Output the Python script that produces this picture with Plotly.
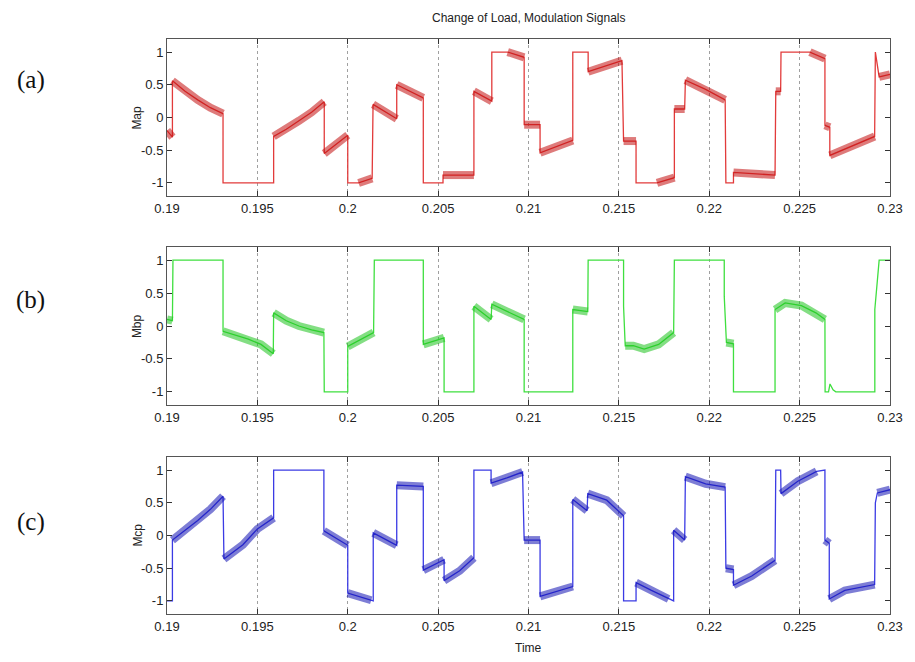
import plotly.graph_objects as go

# ---------------- data ----------------
x_ticks = [0.19, 0.195, 0.2, 0.205, 0.21, 0.215, 0.22, 0.225, 0.23]
x_tick_text = ["0.19", "0.195", "0.2", "0.205", "0.21", "0.215", "0.22", "0.225", "0.23"]
y_ticks = [-1, -0.5, 0, 0.5, 1]
y_tick_text = ["-1", "-0.5", "0", "0.5", "1"]

# Map: time, value, ripple flag (1 = stretch to next point carries PWM ripple)
map_t = [0.19000, 0.19030, 0.19030, 0.19100, 0.19170, 0.19240, 0.19310, 0.19310, 0.19590, 0.19590,
         0.19660, 0.19730, 0.19800, 0.19870, 0.19870, 0.20000, 0.20000, 0.20060, 0.20135, 0.20140,
         0.20271, 0.20271, 0.20418, 0.20418, 0.20527, 0.20527, 0.20698, 0.20698, 0.20797, 0.20797,
         0.20885, 0.20976, 0.20976, 0.21064, 0.21064, 0.21245, 0.21245, 0.21330, 0.21330, 0.21517,
         0.21526, 0.21595, 0.21595, 0.21711, 0.21807, 0.21807, 0.21864, 0.21868, 0.21980, 0.22088,
         0.22092, 0.22134, 0.22134, 0.22364, 0.22368, 0.22395, 0.22397, 0.22557, 0.22640, 0.22640,
         0.22667, 0.22667, 0.22790, 0.22915, 0.22919, 0.22940, 0.23000]
map_y = [-0.20, -0.30, 0.56, 0.40, 0.27, 0.15, 0.06, -1.00, -1.00, -0.29,
         -0.18, -0.05, 0.08, 0.24, -0.55, -0.27, -1.00, -1.00, -0.93, 0.20,
         -0.02, 0.50, 0.30, -1.00, -1.00, -0.88, -0.88, 0.40, 0.25, 1.00,
         1.00, 0.92, -0.11, -0.11, -0.54, -0.35, 1.00, 1.00, 0.70, 0.87,
         -0.36, -0.36, -1.00, -1.00, -0.92, 0.13, 0.13, 0.57, 0.43, 0.27,
         -1.00, -1.00, -0.84, -0.88, 0.40, 0.40, 1.00, 1.00, 0.90, -0.12,
         -0.15, -0.58, -0.43, -0.29, 1.00, 0.62, 0.66]
map_r = [1, 0, 1, 1, 1, 1, 0, 0, 0, 1,
         1, 1, 1, 0, 1, 0, 0, 1, 0, 1,
         0, 1, 0, 0, 0, 1, 0, 1, 0, 0,
         1, 0, 1, 0, 1, 0, 0, 0, 1, 0,
         1, 0, 0, 1, 0, 1, 0, 1, 1, 0,
         0, 0, 1, 0, 1, 0, 0, 1, 0, 1,
         0, 1, 1, 0, 0, 1, 0]

mbp_t = [0.19000, 0.19030, 0.19033, 0.19310, 0.19310, 0.19380, 0.19450, 0.19520, 0.19588, 0.19590,
         0.19660, 0.19730, 0.19800, 0.19868, 0.19870, 0.20000, 0.20000, 0.20143, 0.20147, 0.20418,
         0.20418, 0.20533, 0.20533, 0.20698, 0.20698, 0.20793, 0.20797, 0.20976, 0.20976, 0.21245,
         0.21245, 0.21328, 0.21330, 0.21526, 0.21526, 0.21535, 0.21580, 0.21640, 0.21720, 0.21803,
         0.21807, 0.22083, 0.22083, 0.22095, 0.22134, 0.22134, 0.22364, 0.22364, 0.22420, 0.22510,
         0.22590, 0.22640, 0.22641, 0.22660, 0.22668, 0.22685, 0.22700, 0.22916, 0.22916, 0.22940,
         0.23000]
mbp_y = [0.10, 0.08, 1.00, 1.00, -0.08, -0.14, -0.20, -0.28, -0.42, 0.20,
         0.08, 0.00, -0.06, -0.10, -1.00, -1.00, -0.31, -0.10, 1.00, 1.00,
         -0.28, -0.18, -1.00, -1.00, 0.30, 0.10, 0.33, 0.10, -1.00, -1.00,
         0.25, 0.22, 1.00, 1.00, 0.30, -0.30, -0.30, -0.35, -0.28, -0.10,
         1.00, 1.00, 0.45, -0.25, -0.27, -1.00, -1.00, 0.25, 0.35, 0.31,
         0.20, 0.10, -1.00, -1.00, -0.88, -0.97, -1.00, -1.00, 0.25, 1.00,
         1.00]
mbp_r = [1, 0, 0, 0, 1, 1, 1, 1, 0, 1,
         1, 1, 1, 0, 0, 0, 1, 0, 0, 0,
         1, 0, 0, 0, 1, 0, 1, 0, 0, 0,
         1, 0, 0, 0, 0, 1, 1, 1, 1, 0,
         0, 0, 0, 1, 0, 0, 0, 1, 1, 1,
         1, 0, 0, 0, 0, 0, 0, 0, 0, 0,
         0]

mcp_t = [0.19000, 0.19030, 0.19030, 0.19170, 0.19240, 0.19310, 0.19315, 0.19420, 0.19500, 0.19590,
         0.19590, 0.19868, 0.19868, 0.20000, 0.20000, 0.20130, 0.20141, 0.20141, 0.20271, 0.20271,
         0.20418, 0.20418, 0.20533, 0.20533, 0.20619, 0.20698, 0.20698, 0.20793, 0.20793, 0.20880,
         0.20967, 0.20976, 0.21064, 0.21064, 0.21245, 0.21245, 0.21324, 0.21328, 0.21433, 0.21526,
         0.21526, 0.21595, 0.21595, 0.21680, 0.21775, 0.21803, 0.21803, 0.21864, 0.21868, 0.21980,
         0.22088, 0.22092, 0.22134, 0.22134, 0.22235, 0.22364, 0.22368, 0.22395, 0.22397, 0.22490,
         0.22594, 0.22640, 0.22640, 0.22664, 0.22664, 0.22750, 0.22915, 0.22919, 0.22930, 0.23000]
mcp_y = [-1.00, -1.00, -0.07, 0.23, 0.40, 0.60, -0.36, -0.14, 0.10, 0.27,
         1.00, 1.00, 0.07, -0.15, -0.88, -0.99, -1.00, 0.04, -0.15, 0.77,
         0.75, -0.53, -0.37, -0.69, -0.54, -0.34, 1.00, 1.00, 0.80, 0.88,
         0.97, -0.07, -0.07, -0.93, -0.78, 0.55, 0.38, 0.64, 0.54, 0.30,
         -1.00, -1.00, -0.72, -0.84, -0.97, -1.00, 0.08, -0.07, 0.90, 0.79,
         0.74, -0.50, -0.52, -0.76, -0.62, -0.38, 1.00, 1.00, 0.64, 0.83,
         0.98, 1.00, -0.07, -0.12, -0.97, -0.84, -0.75, 0.50, 0.65, 0.70]
mcp_r = [0, 0, 1, 1, 1, 0, 1, 1, 1, 0,
         0, 0, 1, 0, 1, 0, 0, 1, 0, 1,
         0, 1, 0, 1, 1, 0, 0, 0, 1, 1,
         0, 1, 0, 1, 0, 1, 0, 1, 1, 0,
         0, 0, 1, 1, 0, 0, 1, 0, 1, 1,
         0, 1, 0, 1, 1, 0, 0, 0, 1, 1,
         0, 0, 1, 0, 1, 1, 0, 0, 1, 0]

panels = [
    ("Map", map_t, map_y, map_r, "#e23b3b", "#c41010", "(a)"),
    ("Mbp", mbp_t, mbp_y, mbp_r, "#3fdf3f", "#1fc41f", "(b)"),
    ("Mcp", mcp_t, mcp_y, mcp_r, "#3b3be4", "#1414b4", "(c)"),
]

# ---------------- layout geometry ----------------
W, H = 915, 662
ML, MR, MT, MB = 167, 22, 39, 48
plot_h = H - MT - MB
boxes = [(39, 196), (247, 405), (457, 614)]


def dom(top, bot):
    return [(H - MB - bot) / plot_h, (H - MB - top) / plot_h]


fig = go.Figure()
axis_font = dict(family="Liberation Sans, Arial, sans-serif", size=13, color="#222")

for i, (name, t, y, r, col, rcol, lab) in enumerate(panels):
    k = "" if i == 0 else str(i + 1)
    xa, ya = "x" + k, "y" + k
    fig.add_trace(go.Scatter(x=t, y=y, mode="lines", line=dict(color=col, width=1.3),
                             xaxis=xa, yaxis=ya, showlegend=False, hoverinfo="skip"))
    rx, ry = [], []
    for j in range(len(t) - 1):
        if r[j]:
            if not rx or rx[-1] != t[j] or ry[-1] != y[j]:
                if rx:
                    rx.append(None)
                    ry.append(None)
                rx.append(t[j])
                ry.append(y[j])
            rx.append(t[j + 1])
            ry.append(y[j + 1])
    fig.add_trace(go.Scatter(x=rx, y=ry, mode="lines", line=dict(color=rcol, width=8),
                             opacity=0.55, xaxis=xa, yaxis=ya, showlegend=False,
                             hoverinfo="skip", connectgaps=False))
    top, bot = boxes[i]
    fig.update_layout(**{
        "xaxis" + k: dict(domain=[0, 1], range=[0.19, 0.23], anchor=ya,
                          tickvals=x_ticks, ticktext=x_tick_text,
                          ticks="inside", ticklen=5, tickcolor="#333", mirror="ticks",
                          showline=True, linecolor="#555", linewidth=1,
                          showgrid=True, gridcolor="#a0a0a0", griddash="dot", gridwidth=1,
                          zeroline=False, tickfont=axis_font),
        "yaxis" + k: dict(domain=dom(top, bot), range=[-1.2, 1.2], anchor=xa,
                          tickvals=y_ticks, ticktext=y_tick_text,
                          ticks="inside", ticklen=5, tickcolor="#333", mirror="ticks",
                          showline=True, linecolor="#555", linewidth=1,
                          showgrid=False, zeroline=False, tickfont=axis_font),
    })
    ymid = (H - MB - (top + bot) / 2) / plot_h
    fig.add_annotation(text=name, xref="paper", yref="paper", x=(137 - ML) / (W - ML - MR),
                       y=ymid, textangle=-90, showarrow=False,
                       font=dict(family="Liberation Sans, Arial, sans-serif", size=12, color="#222"),
                       xanchor="center", yanchor="middle")
    fig.add_annotation(text=lab, xref="paper", yref="paper", x=(30 - ML) / (W - ML - MR),
                       y=(H - MB - [80, 300, 522][i]) / plot_h, showarrow=False,
                       font=dict(family="Liberation Serif, Times New Roman, serif", size=25, color="#111"),
                       xanchor="center", yanchor="middle")

fig.add_annotation(text="Change of Load, Modulation Signals", xref="paper", yref="paper",
                   x=0.5, y=(H - MB - 18) / plot_h, showarrow=False,
                   font=dict(family="Liberation Sans, Arial, sans-serif", size=12, color="#222"),
                   xanchor="center", yanchor="middle")
fig.add_annotation(text="Time", xref="paper", yref="paper",
                   x=0.5, y=(H - MB - 648) / plot_h, showarrow=False,
                   font=dict(family="Liberation Sans, Arial, sans-serif", size=12, color="#222"),
                   xanchor="center", yanchor="middle")

fig.update_layout(width=W, height=H, margin=dict(l=ML, r=MR, t=MT, b=MB),
                  plot_bgcolor="white", paper_bgcolor="white")

fig.write_html("out.html", config={"displayModeBar": False},
               post_script="document.body.style.margin='0';")
